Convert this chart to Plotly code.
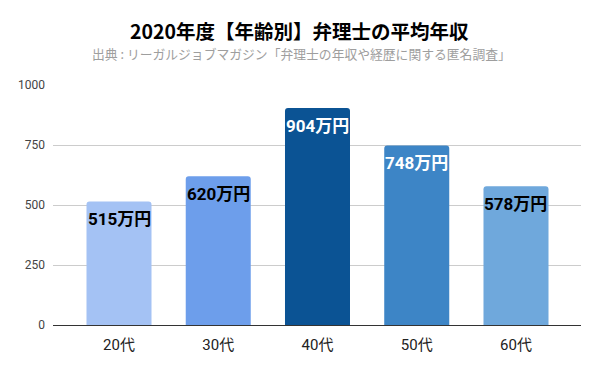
import plotly.graph_objects as go

categories = ["20代", "30代", "40代", "50代", "60代"]
values = [515, 620, 904, 748, 578]
labels = ["515万円", "620万円", "904万円", "748万円", "578万円"]
colors = ["#a4c2f4", "#6d9eeb", "#0b5394", "#3d85c6", "#6fa8dc"]
label_colors = ["#000000", "#000000", "#ffffff", "#ffffff", "#000000"]
y_ticks = [0, 250, 500, 750, 1000]

title = "2020年度【年齢別】弁理士の平均年収"
subtitle = "出典 : リーガルジョブマガジン「弁理士の年収や経歴に関する匿名調査」"

font_fam = "Roboto, 'Noto Sans CJK JP', sans-serif"

fig = go.Figure()
fig.add_trace(go.Bar(
    x=categories, y=values,
    marker=dict(color=colors, line=dict(width=0), cornerradius=3),
    width=0.655,
    hoverinfo="skip",
))

annotations = []
for c, v, t, col in zip(categories, values, labels, label_colors):
    annotations.append(dict(
        x=c, y=v, xref="x", yref="y", text="<b>" + t + "</b>",
        showarrow=False, yanchor="middle", yshift=-18,
        font=dict(family=font_fam, size=17, color=col),
    ))

# centre on the full 600px page (plot domain spans 53..581)
center_shift = 300 - (53 + 581) / 2

annotations.append(dict(
    x=0.5, y=1, xref="paper", yref="paper", yanchor="middle",
    xshift=center_shift - 1, yshift=85 - 30,
    text="<b>" + title + "</b>", showarrow=False,
    font=dict(family="'Noto Sans CJK JP', sans-serif", size=19.5, color="#000000"),
))
annotations.append(dict(
    x=0.5, y=1, xref="paper", yref="paper", yanchor="middle",
    xshift=center_shift + 1, yshift=85 - 53,
    text=subtitle, showarrow=False,
    font=dict(family="'Noto Sans CJK JP', sans-serif", size=12.8, color="#9e9e9e"),
))

fig.update_layout(
    width=600, height=371,
    margin=dict(l=53, r=19, t=85, b=46),
    paper_bgcolor="white", plot_bgcolor="white",
    showlegend=False,
    annotations=annotations,
    font=dict(family=font_fam),
)
fig.update_xaxes(
    range=[-0.665, 4.655],
    showline=False, showgrid=False, ticks="",
    ticklabelstandoff=9, automargin=False,
    tickfont=dict(family=font_fam, size=15, color="#222222"),
)
fig.update_yaxes(
    range=[0, 1000], tickvals=y_ticks,
    showgrid=True, gridcolor="#cccccc", gridwidth=1,
    zeroline=True, zerolinecolor="#333333", zerolinewidth=1,
    ticks="", ticklabelstandoff=7,
    tickfont=dict(family=font_fam, size=12, color="#444444"),
)

fig.write_html(
    "out.html",
    config={"displayModeBar": False},
    post_script="document.body.style.margin='0px';document.body.style.overflow='hidden';",
)
